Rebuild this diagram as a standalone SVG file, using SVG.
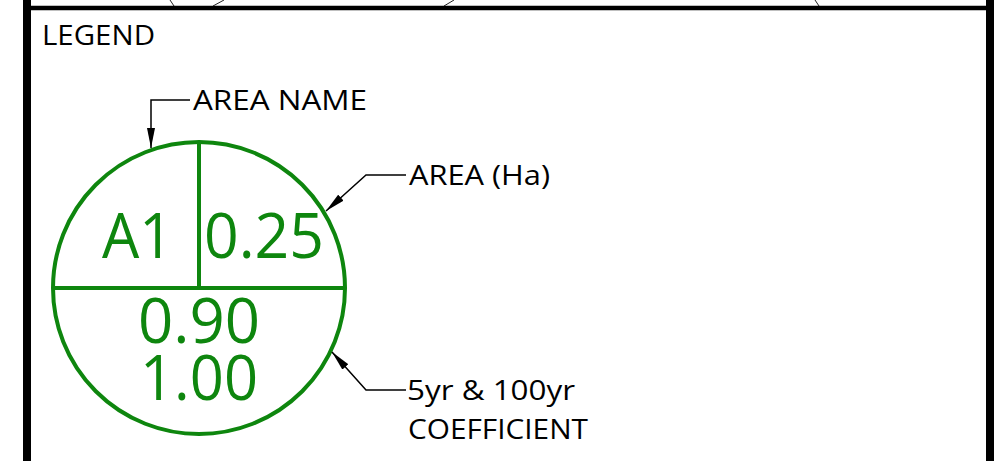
<svg xmlns="http://www.w3.org/2000/svg" width="1002" height="461" viewBox="0 0 1002 461">
<style>
.frame{stroke:#000;fill:none}
.frag{stroke:#222;stroke-width:1;fill:none}
.lbl{font-family:"Open Sans","Noto Sans",sans-serif;font-size:28px;fill:#000}
.g{stroke:#0e860e;stroke-width:4;fill:none}
.gt{font-family:"Open Sans","Noto Sans",sans-serif;font-size:62px;fill:#0e860e}
.lead{stroke:#000;stroke-width:1.5;fill:none;marker-end:url(#arr)}
</style>
<defs>
<marker id="arr" viewBox="0 0 20 8" refX="20" refY="4" markerWidth="20" markerHeight="8" markerUnits="userSpaceOnUse" orient="auto">
<path d="M0,0 L20,4 L0,8 z" fill="#000"/>
</marker>
</defs>
<g id="frame">
<line class="frag" x1="170" y1="0" x2="174" y2="6"/>
<line class="frag" x1="213" y1="6" x2="224" y2="0"/>
<line class="frag" x1="444" y1="6" x2="454" y2="0"/>
<line class="frag" x1="815" y1="0" x2="819" y2="6"/>
<line class="frame" x1="27" y1="8" x2="990" y2="8" stroke-width="4.5"/>
<line class="frame" x1="27" y1="0" x2="27" y2="461" stroke-width="8"/>
<line class="frame" x1="990" y1="0" x2="990" y2="461" stroke-width="8"/>
</g>
<g id="title">
<text class="lbl" x="42" y="45" textLength="113" lengthAdjust="spacingAndGlyphs">LEGEND</text>
</g>
<g id="symbol">
<circle class="g" cx="199" cy="288" r="146"/>
<line class="g" x1="53" y1="288" x2="345" y2="288"/>
<line class="g" x1="199" y1="143" x2="199" y2="288"/>
<text class="gt" x="102" y="258" textLength="71" lengthAdjust="spacingAndGlyphs">A1</text>
<text class="gt" x="204" y="258" textLength="120" lengthAdjust="spacingAndGlyphs">0.25</text>
<text class="gt" x="138" y="343" textLength="122" lengthAdjust="spacingAndGlyphs">0.90</text>
<text class="gt" x="140" y="400" textLength="118" lengthAdjust="spacingAndGlyphs">1.00</text>
</g>
<g id="label-area-name">
<text class="lbl" x="193" y="110" textLength="174" lengthAdjust="spacingAndGlyphs">AREA NAME</text>
</g>
<g id="label-area">
<text class="lbl" x="409" y="185" textLength="141" lengthAdjust="spacingAndGlyphs">AREA (Ha)</text>
</g>
<g id="label-coefficient">
<text class="lbl" x="407" y="400" textLength="168" lengthAdjust="spacingAndGlyphs">5yr &amp; 100yr</text>
<text class="lbl" x="408" y="439" textLength="180" lengthAdjust="spacingAndGlyphs">COEFFICIENT</text>
</g>
<g id="connectors">
<path class="lead" d="M190,100 H151 V148"/>
<path class="lead" d="M406,175 H366 L326,211"/>
<path class="lead" d="M406,390 H366 L332,352"/>
</g>
</svg>
